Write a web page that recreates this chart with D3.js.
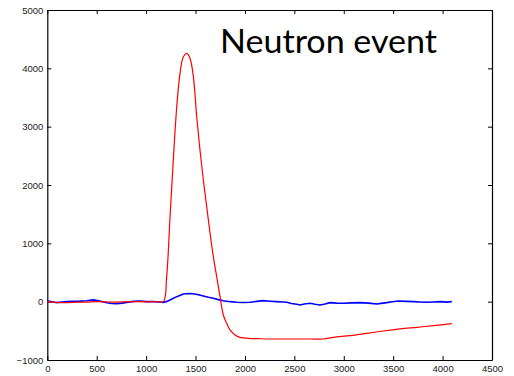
<!DOCTYPE html>
<html><head><meta charset="utf-8">
<script src="https://cdn.jsdelivr.net/npm/d3@7"></script>
<style>body{margin:0;background:#fff}svg{display:block}</style>
</head><body><svg id="c" width="514" height="376"></svg>
<script>
const xTicks = [0,500,1000,1500,2000,2500,3000,3500,4000,4500];
const yTicks = [-1000,0,1000,2000,3000,4000,5000];
const titleText = "Neutron event";
// red (neutron pulse) trace: [sample, value]
const redX = [0,100,200,300,400,500,600,700,800,900,1000,1100,1174,1208,1242,1275,1310,1343,1377,1411,1444,1478,1512,1545,1579,1613,1647,1680,1714,1748,1781,1815,1849,1900,1950,2034,2150,2287,2450,2659,2794,2895,3064,3233,3401,3570,3739,3907,4093];
const redY = [0,-12,-15,-10,-8,0,-5,-8,-3,0,-2,0,0,430,1457,2430,3343,3915,4200,4257,4172,3857,3171,2600,2086,1629,1172,771,429,86,-228,-371,-485,-571,-611,-628,-636,-640,-640,-640,-640,-611,-583,-543,-503,-468,-440,-411,-377];
// blue trace
const blueX = [0,50,95,150,196,260,330,400,466,530,601,650,702,760,803,870,938,1000,1073,1130,1174,1210,1242,1310,1377,1430,1478,1530,1579,1630,1680,1730,1781,1850,1916,1980,2052,2120,2186,2250,2322,2380,2423,2470,2524,2558,2600,2659,2710,2760,2810,2861,2930,2996,3080,3165,3250,3334,3380,3435,3490,3553,3630,3705,3770,3840,3910,3975,4040,4093];
const blueY = [12,0,-17,-5,0,8,10,15,30,10,-20,-30,-35,-25,-12,5,12,0,0,-5,-12,5,29,86,131,140,137,120,97,75,57,35,17,0,-11,-15,-11,5,17,8,0,-5,-11,-30,-45,-57,-40,-28,-45,-57,-40,-17,-25,-28,-20,-17,-25,-40,-30,-17,0,12,5,0,-5,-11,-5,0,-8,0];

const svg = d3.select("#c");
const L = 47.3, R = 492, T = 10, B = 360;
const x = d3.scaleLinear().domain([0,4500]).range([L,R]);
const y = d3.scaleLinear().domain([-1000,5000]).range([B,T]);

const font = "'Liberation Sans', Arial, sans-serif";
const fmt = d3.format("d");
function style(g){
  g.selectAll("path.domain").attr("stroke","#000").attr("stroke-width",1.2);
  g.selectAll(".tick line").attr("stroke","#000").attr("stroke-width",1);
  g.selectAll("text").attr("font-family",font).attr("font-size","9.5px").attr("fill","#222");
}
svg.append("g").attr("transform",`translate(0,${B})`)
  .call(d3.axisBottom(x).tickValues(xTicks).tickFormat(fmt).tickSize(-4).tickPadding(5).tickSizeOuter(0)).call(style);
svg.append("g").attr("transform",`translate(0,${T})`)
  .call(d3.axisTop(x).tickValues(xTicks).tickSize(-4).tickFormat("").tickSizeOuter(0)).call(style);
svg.append("g").attr("transform",`translate(${L},0)`)
  .call(d3.axisLeft(y).tickValues(yTicks).tickFormat(fmt).tickSize(-4).tickPadding(4).tickSizeOuter(0)).call(style);
svg.append("g").attr("transform",`translate(${R},0)`)
  .call(d3.axisRight(y).tickValues(yTicks).tickSize(-4).tickFormat("").tickSizeOuter(0)).call(style);

const blue = blueX.map((v,i)=>[v,blueY[i]]);
const red = redX.map((v,i)=>[v,redY[i]]);
svg.append("path").datum(blue).attr("fill","none").attr("stroke","#0000ff").attr("stroke-width",1.6)
  .attr("d", d3.line().x(d=>x(d[0])).y(d=>y(d[1])));
svg.append("path").datum(red).attr("fill","none").attr("stroke","#ff0000").attr("stroke-width",1.2)
  .attr("d", d3.line().curve(d3.curveCatmullRom.alpha(0.5)).x(d=>x(d[0])).y(d=>y(d[1])));

svg.append("text").attr("x",220).attr("y",53).attr("font-family","Lato, 'Open Sans', sans-serif")
  .attr("font-size","33px").attr("fill","#000").attr("textLength",217).attr("lengthAdjust","spacingAndGlyphs")
  .text(titleText);
</script></body></html>
